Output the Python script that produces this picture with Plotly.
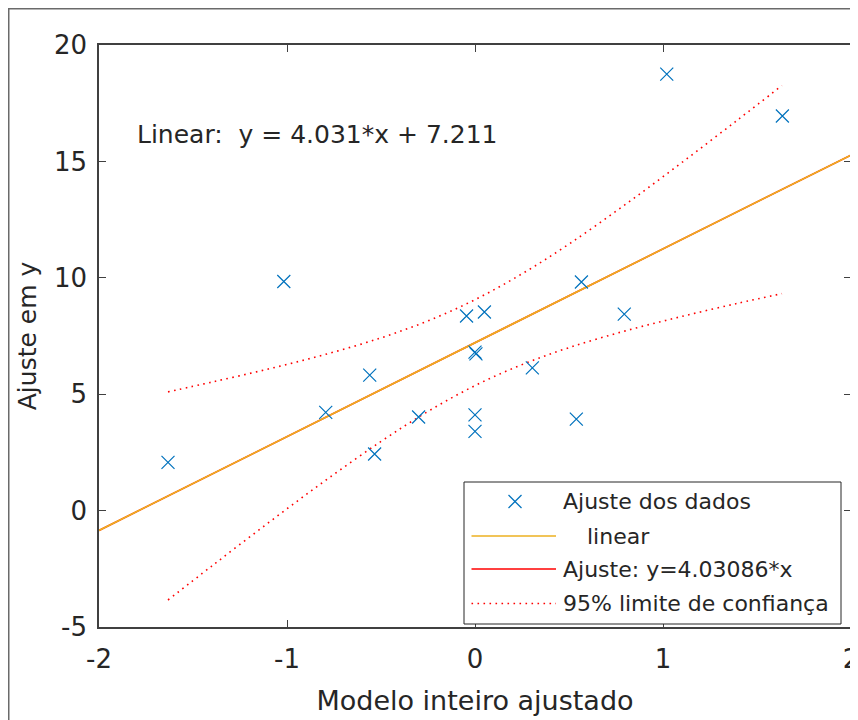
import plotly.graph_objects as go

# ---------------- data ----------------
data_x = [-1.633, -1.017, -0.794, -0.560, -0.534, -0.300, -0.045, 0.050, 0.0, 0.005,
          0.0, 0.0, 0.305, 0.539, 0.566, 0.794, 1.020, 1.635]
data_y = [2.07, 9.84, 4.22, 5.82, 2.43, 4.02, 8.36, 8.53, 6.81, 6.73,
          4.11, 3.40, 6.13, 3.93, 9.82, 8.44, 18.75, 16.95]

fit_x = [-2.0, 2.0]
fit_y = [-0.851, 15.273]          # linear: y = 4.031*x + 7.211

bound_x = [-1.633, -1.4, -1.1, -0.8, -0.5, -0.25, 0.0, 0.25, 0.5, 0.8, 1.1, 1.4, 1.633]
bound_upper = [5.10, 5.52, 6.08, 6.70, 7.42, 8.15, 9.06, 10.17, 11.45, 13.15, 14.95, 16.80, 18.26]
bound_lower = [-3.84, -2.38, -0.53, 1.27, 2.97, 4.26, 5.37, 6.27, 7.00, 7.72, 8.34, 8.91, 9.32]

x_ticks = [-2, -1, 0, 1, 2]
x_tick_labels = ["-2", "-1", "0", "1", "2"]
y_ticks = [-5, 0, 5, 10, 15, 20]
y_tick_labels = ["-5", "0", "5", "10", "15", "20"]

legend_labels = ["Ajuste dos dados", "linear", "Ajuste: y=4.03086*x", "95% limite de confiança"]
equation_text = "Linear:\u00a0 y = 4.031*x + 7.211"

# ---------------- styling ----------------
BLUE = "#0072BD"
GOLD = "#EDB120"
RED = "#FF0000"
AX = "#404040"
TXT = "#262626"
FONT = "DejaVu Sans"

OFF = 8                      # page body margin around the figure
W, H = 858 - OFF, 720 - OFF
L, R, T, B = 99 - OFF, 7, 45 - OFF, 93
PW = W - L - R
PH = H - T - B


def px(xs):
    """screen x pixel -> paper coordinate"""
    return (xs - OFF - L) / PW


def py(ys):
    """screen y pixel -> paper coordinate"""
    return (H - B - (ys - OFF)) / PH


fig = go.Figure()

# red fit line (hidden underneath the linear line)
fig.add_trace(go.Scatter(x=fit_x, y=fit_y, mode="lines",
                         line=dict(color=RED, width=1.6), name=legend_labels[2],
                         hoverinfo="skip"))
fig.add_trace(go.Scatter(x=fit_x, y=fit_y, mode="lines",
                         line=dict(color=GOLD, width=1.6), name=legend_labels[1]))
fig.add_trace(go.Scatter(x=bound_x, y=bound_upper, mode="lines",
                         line=dict(color=RED, width=1.6, dash="1.6px,4.4px", shape="spline"),
                         name=legend_labels[3]))
fig.add_trace(go.Scatter(x=bound_x, y=bound_lower, mode="lines",
                         line=dict(color=RED, width=1.6, dash="1.6px,4.4px", shape="spline"),
                         name=legend_labels[3]))
fig.add_trace(go.Scatter(x=data_x, y=data_y, mode="markers",
                         marker=dict(symbol="x-thin", size=13,
                                     line=dict(color=BLUE, width=1.2)),
                         name=legend_labels[0]))

shapes = []
annotations = []

# outer figure frame (partially visible in the reference)
shapes.append(dict(type="rect", xref="paper", yref="paper",
                   x0=px(OFF + 0.75), x1=px(900), y0=py(760), y1=py(OFF + 0.75),
                   line=dict(color="#6a6a6a", width=1.5), fillcolor="rgba(0,0,0,0)",
                   layer="below"))

# manual legend box
lx0, lx1, ly0, ly1 = 464, 841, 482, 624
shapes.append(dict(type="rect", xref="paper", yref="paper",
                   x0=px(lx0), x1=px(lx1), y0=py(ly1), y1=py(ly0),
                   line=dict(color=TXT, width=1), fillcolor="white", layer="above"))
rows = [501.5, 536, 569, 603.5]
sx0, sx1 = 471.5, 556
# marker x
mx, my, ms = 515, rows[0], 6.5
shapes.append(dict(type="line", xref="paper", yref="paper", x0=px(mx - ms), x1=px(mx + ms),
                   y0=py(my - ms), y1=py(my + ms), line=dict(color=BLUE, width=1.2), layer="above"))
shapes.append(dict(type="line", xref="paper", yref="paper", x0=px(mx - ms), x1=px(mx + ms),
                   y0=py(my + ms), y1=py(my - ms), line=dict(color=BLUE, width=1.2), layer="above"))
shapes.append(dict(type="line", xref="paper", yref="paper", x0=px(sx0), x1=px(sx1),
                   y0=py(rows[1]), y1=py(rows[1]), line=dict(color=GOLD, width=1.6), layer="above"))
shapes.append(dict(type="line", xref="paper", yref="paper", x0=px(sx0), x1=px(sx1),
                   y0=py(rows[2]), y1=py(rows[2]), line=dict(color=RED, width=1.6), layer="above"))
shapes.append(dict(type="line", xref="paper", yref="paper", x0=px(sx0), x1=px(sx1),
                   y0=py(rows[3]), y1=py(rows[3]), line=dict(color=RED, width=1.6, dash="1.6px,4.4px"),
                   layer="above"))
text_x = [561, 585, 561, 561]
for lab, tx, ry in zip(legend_labels, text_x, rows):
    annotations.append(dict(xref="paper", yref="paper", x=px(tx), y=py(ry),
                            xanchor="left", yanchor="middle", showarrow=False,
                            text=lab, font=dict(family=FONT, size=22, color=TXT)))

# equation text
annotations.append(dict(xref="paper", yref="paper", x=px(135), y=py(134),
                        xanchor="left", yanchor="middle", showarrow=False,
                        text=equation_text, font=dict(family=FONT, size=25, color=TXT)))

fig.update_layout(
    width=W, height=H,
    margin=dict(l=L, r=R, t=T, b=B, autoexpand=False),
    plot_bgcolor="white", paper_bgcolor="white",
    showlegend=False,
    shapes=shapes, annotations=annotations,
    font=dict(family=FONT, color=TXT),
)
fig.update_xaxes(range=[-2, 2], tickvals=x_ticks, ticktext=x_tick_labels,
                 ticks="inside", ticklen=7, tickwidth=1.2, tickcolor=AX,
                 showline=True, linecolor=AX, linewidth=1.5, mirror="ticks",
                 showgrid=False, zeroline=False, automargin=False,
                 tickfont=dict(family=FONT, size=26, color=TXT),
                 ticklabelstandoff=8, ticklabeloverflow="allow",
                 title=dict(text="Modelo inteiro ajustado", standoff=18,
                            font=dict(family=FONT, size=27, color=TXT)))
fig.update_yaxes(range=[-5, 20], tickvals=y_ticks, ticktext=y_tick_labels,
                 ticks="inside", ticklen=7, tickwidth=1.2, tickcolor=AX,
                 showline=True, linecolor=AX, linewidth=1.5, mirror="ticks",
                 showgrid=False, zeroline=False, automargin=False,
                 tickfont=dict(family=FONT, size=26, color=TXT),
                 ticklabelstandoff=5, ticklabeloverflow="allow",
                 title=dict(text="Ajuste em y", standoff=10,
                            font=dict(family=FONT, size=25, color=TXT)))

fig.write_html("out.html")
